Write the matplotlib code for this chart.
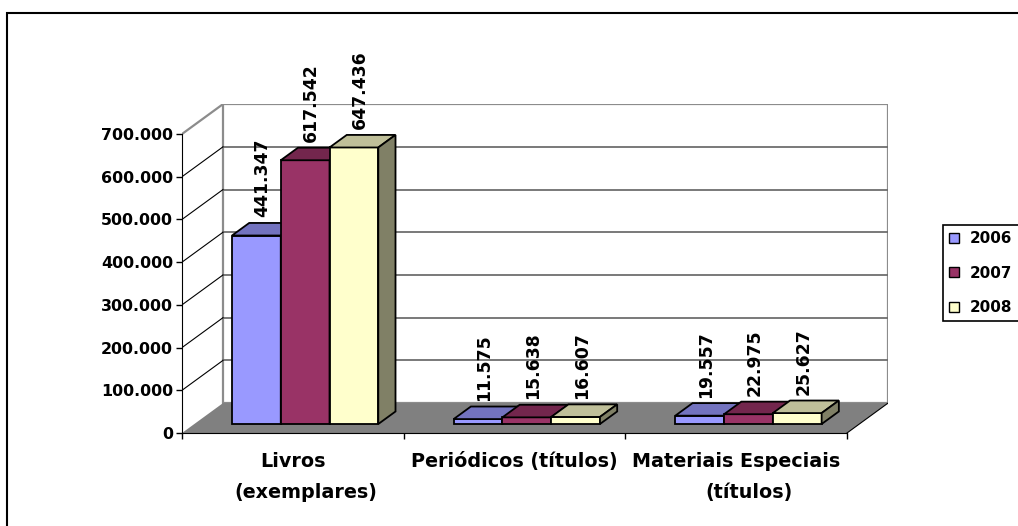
import matplotlib
matplotlib.use("Agg")
import matplotlib.pyplot as plt
from matplotlib.patches import Polygon, Rectangle
from matplotlib.lines import Line2D
from matplotlib.ticker import FuncFormatter

# acervo por tipo de material
categorias = [["Livros", "(exemplares)"],
              ["Periódicos (títulos)"],
              ["Materiais Especiais", "(títulos)"]]
anos = ["2006", "2007", "2008"]
acervo_2006 = [441347, 11575, 19557]
acervo_2007 = [617542, 15638, 22975]
acervo_2008 = [647436, 16607, 25627]
y_ticks = [0, 100000, 200000, 300000, 400000, 500000, 600000, 700000]

series = [acervo_2006, acervo_2007, acervo_2008]
cores = ["#9999FF", "#993366", "#FFFFCC"]


def shade(hex_color, k):
    r, g, b = (int(hex_color[i:i + 2], 16) for i in (1, 3, 5))
    return (r * k / 255, g * k / 255, b * k / 255)


def fmt_pt(v):
    return f"{int(v):,}".replace(",", ".")


W, H = 1018, 526
plt.rcParams['font.family'] = ['DejaVu Sans']
plt.rcParams['font.weight'] = 'bold'

fig = plt.figure(figsize=(W / 100, H / 100), dpi=100)

YMAX = y_ticks[-1]
N = len(categorias)
DX = 0.185          # profundidade em unidades de categoria
DY = 70000          # profundidade em unidades de valor
PX_CAT = 665 / N
PX_VAL = 299 / YMAX

ax_w = (N + DX) * PX_CAT
ax_h = (YMAX + DY) * PX_VAL
ax = fig.add_axes([182 / W, (H - 433) / H, ax_w / W, ax_h / H])
ax.set_xlim(0, N + DX)
ax.set_ylim(0, YMAX + DY)
ax.patch.set_visible(False)

# paredes e piso
ax.add_patch(Polygon([(0, 0), (DX, DY), (DX, YMAX + DY), (0, YMAX)],
                     fc="white", ec="none", zorder=0))
ax.add_patch(Rectangle((DX, DY), N, YMAX, fc="white", ec="#8c8c8c", lw=1.6, zorder=0.5))
for v in y_ticks[1:-1]:
    ax.plot([DX, N + DX], [v + DY, v + DY], color="#6e6e6e", lw=1.3, zorder=0.6)
    ax.plot([0, DX], [v, v + DY], color="black", lw=0.8, zorder=0.6)
ax.plot([0, DX], [YMAX, YMAX + DY], color="#8c8c8c", lw=1.6, zorder=0.6)
ax.add_patch(Polygon([(0, 0), (N, 0), (N + DX, DY), (DX, DY)],
                     fc="#808080", ec="none", zorder=1))
ax.plot([N, N + DX], [0, DY], color="black", lw=0.8, zorder=1.1)

# colunas 3D
BAR_W = 0.22
GROUP_START = 0.17
T0, T1 = 0.3, 0.72
bdx, bdy = (T1 - T0) * DX, (T1 - T0) * DY

for j, (vals, cor) in enumerate(zip(series, cores)):
    xs = [i + GROUP_START + j * BAR_W + T0 * DX for i in range(N)]
    ax.bar(xs, vals, width=BAR_W, bottom=T0 * DY, align="edge",
           color=cor, edgecolor="black", lw=1.3, zorder=3)
    for x, v in zip(xs, vals):
        base = T0 * DY
        top = v + base
        xr = x + BAR_W
        ax.add_patch(Polygon([(x, top), (xr, top), (xr + bdx, top + bdy), (x + bdx, top + bdy)],
                             fc=shade(cor, 0.75), ec="black", lw=1.3, zorder=3))
        ax.add_patch(Polygon([(xr, base), (xr, top), (xr + bdx, top + bdy), (xr + bdx, base + bdy)],
                             fc=shade(cor, 0.5), ec="black", lw=1.3, zorder=3))
        ax.annotate(fmt_pt(v), xy=(x + BAR_W / 2 + bdx * 0.35, top + bdy),
                    xytext=(0, 4), textcoords="offset points", rotation=90,
                    ha="center", va="bottom", fontsize=12.4, fontweight="bold", zorder=5)

# eixos
for s in ("top", "right"):
    ax.spines[s].set_visible(False)
ax.spines["left"].set_bounds(0, YMAX)
ax.spines["bottom"].set_bounds(0, N)
ax.spines["left"].set_zorder(4)
ax.spines["bottom"].set_zorder(4)
ax.set_yticks(y_ticks)
ax.yaxis.set_major_formatter(FuncFormatter(lambda v, p: fmt_pt(v)))
ax.tick_params(axis="y", length=4.5, width=1, pad=2, labelsize=11.4)
ax.set_xticks(range(N + 1))
ax.set_xticklabels([])
ax.tick_params(axis="x", length=4.5, width=1)

for i, linhas in enumerate(categorias):
    for k, linha in enumerate(linhas):
        ax.annotate(linha, xy=(i + 0.5, 0), xytext=(9.4 if k else 0, -13.7 - 22 * k),
                    textcoords="offset points", ha="center", va="top",
                    fontsize=13.8, fontweight="bold", annotation_clip=False)

# legenda
handles = [Line2D([], [], marker="s", ls="none", mfc=c, mec="black", mew=1, ms=6.5)
           for c in cores]
leg = fig.legend(handles, anos, loc="upper left",
                 bbox_to_anchor=(943 / W, 1 - 322 / H, 100 / W, 97 / H),
                 bbox_transform=fig.transFigure, mode="expand",
                 fancybox=False, edgecolor="black", framealpha=1,
                 prop={"size": 10.9, "weight": "bold"},
                 labelspacing=1.3, handlelength=0.7, handletextpad=0.65,
                 borderpad=0.4, borderaxespad=0)
leg.get_frame().set_linewidth(1.2)

# moldura da área do gráfico
fig.add_artist(Rectangle((7 / W, -0.05), 1.1, (H - 13) / H + 0.05,
                         transform=fig.transFigure, fill=False, ec="black", lw=1.5))

fig.savefig("out.png", dpi=100)
